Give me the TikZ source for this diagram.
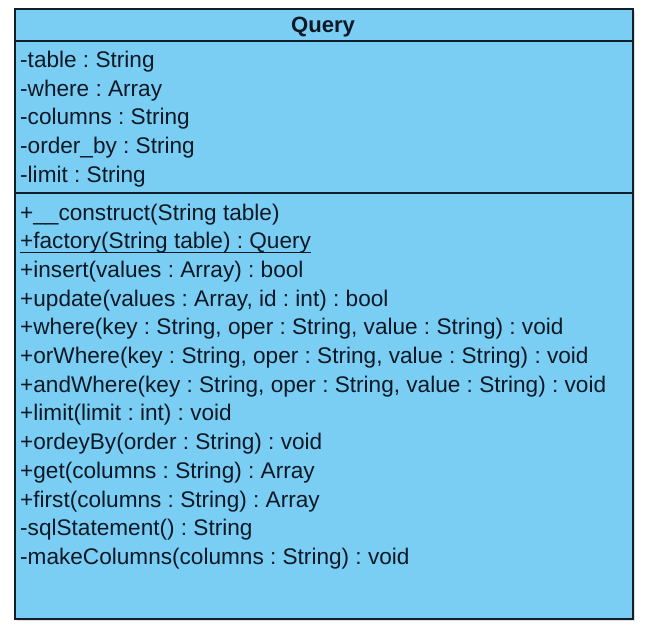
\documentclass[tikz,border=0pt]{standalone}
\usepackage{fontspec}
\setmainfont{Liberation Sans}
\definecolor{umlfill}{RGB}{122,206,244}
\definecolor{umlline}{RGB}{20,30,40}
\definecolor{umltext}{RGB}{12,24,36}
\begin{document}
\begin{tikzpicture}[x=1pt,y=-1pt,
  member/.style={anchor=base west,inner sep=0pt,text=umltext,font=\fontsize{22.6}{26}\selectfont\frenchspacing},
  titletext/.style={anchor=base,inner sep=0pt,text=umltext,font=\fontsize{22.1}{26}\selectfont\bfseries}]
\useasboundingbox (0,0) rectangle (650,632);
\fill[black!12] (16.5,10.5) rectangle (635,621);
\draw[line width=1.5pt,draw=umlline,fill=umlfill] (15,9) rectangle (633,619);
\draw[line width=1.5pt,draw=umlline] (15,41) -- (633,41);
\draw[line width=1.5pt,draw=umlline] (15,193) -- (633,193);
\node[titletext] (title) at (323,32) {Query};
\node[member] (a1) at (20,67.5) {-table : String};
\node[member] (a2) at (20,96.2) {-where : Array};
\node[member] (a3) at (20,124.9) {-columns : String};
\node[member] (a4) at (20,153.6) {-order\_by : String};
\node[member] (a5) at (20,182.3) {-limit : String};
\node[member] (m1) at (20,220) {+\_\_construct(String table)};
\node[member] (m2) at (20,248.7) {+factory(String table) : Query};
\node[member] (m3) at (20,277.4) {+insert(values : Array) : bool};
\node[member] (m4) at (20,306.1) {+update(values : Array, id : int) : bool};
\node[member] (m5) at (20,334.8) {+where(key : String, oper : String, value : String) : void};
\node[member] (m6) at (20,363.5) {+orWhere(key : String, oper : String, value : String) : void};
\node[member] (m7) at (20,392.2) {+andWhere(key : String, oper : String, value : String) : void};
\node[member] (m8) at (20,420.9) {+limit(limit : int) : void};
\node[member] (m9) at (20,449.6) {+ordeyBy(order : String) : void};
\node[member] (m10) at (20,478.3) {+get(columns : String) : Array};
\node[member] (m11) at (20,507) {+first(columns : String) : Array};
\node[member] (m12) at (20,535.7) {-sqlStatement() : String};
\node[member] (m13) at (20,564.4) {-makeColumns(columns : String) : void};
\draw[line width=1.2pt,draw=umltext] ([yshift=-3.5pt]m2.base west) -- ([yshift=-3.5pt]m2.base east);
\end{tikzpicture}
\end{document}
